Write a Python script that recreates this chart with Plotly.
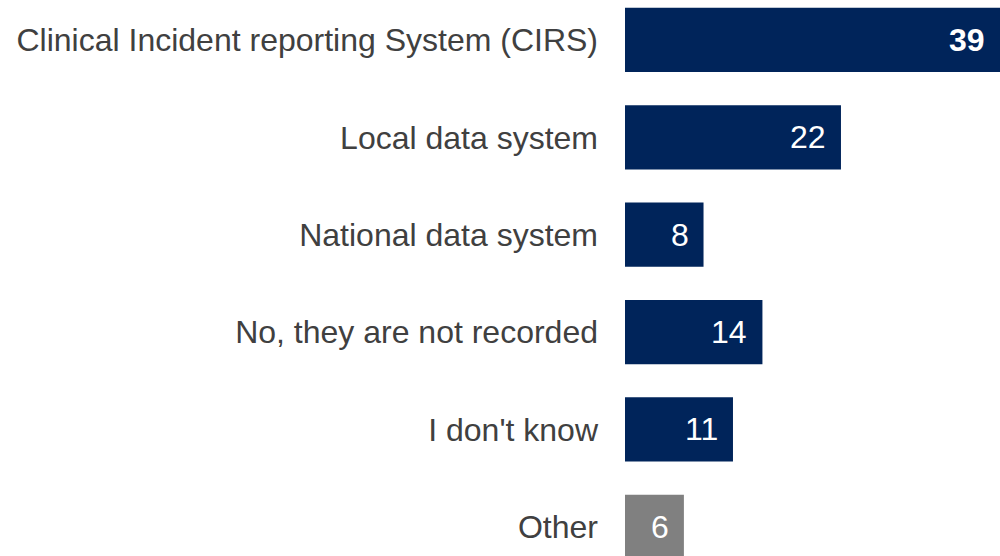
import plotly.graph_objects as go

# Survey responses: how incidents are recorded
categories = [
    "Clinical Incident reporting System (CIRS)",
    "Local data system",
    "National data system",
    "No, they are not recorded",
    "I don't know",
    "Other",
]
counts = [39, 22, 8, 14, 11, 6]

NAVY = "#00245A"
GREY = "#808080"
bar_colors = [GREY if c == "Other" else NAVY for c in categories]

X_MAX = 38.2  # longest bar runs off the right edge

fig = go.Figure(
    go.Bar(
        x=counts,
        y=categories,
        orientation="h",
        marker=dict(color=bar_colors, line=dict(width=0)),
        width=0.66,
        hoverinfo="skip",
    )
)

# Value labels at the inner (visible) end of each bar
for cat, val in zip(categories, counts):
    label = f"<b>{val}</b>" if val == max(counts) else str(val)
    fig.add_annotation(
        x=min(val, X_MAX), y=cat, xref="x", yref="y",
        text=label, showarrow=False,
        xanchor="right", yanchor="middle", xshift=-13,
        font=dict(family="Liberation Sans, Arial, sans-serif", size=32, color="white"),
    )

fig.update_layout(
    width=1000,
    height=556,
    margin=dict(l=625, r=0, t=0, b=0),
    paper_bgcolor="white",
    plot_bgcolor="white",
    showlegend=False,
    font=dict(family="Liberation Sans, Arial, sans-serif", size=32, color="#404040"),
    xaxis=dict(
        range=[0, X_MAX],
        visible=False,
        showgrid=False,
        zeroline=False,
        fixedrange=True,
    ),
    yaxis=dict(
        type="category",
        range=[5.30, -0.41],
        showgrid=False,
        zeroline=False,
        showline=False,
        ticks="",
        ticklabelstandoff=26,
        tickfont=dict(size=32, color="#404040"),
        fixedrange=True,
    ),
)

fig.write_html("out.html", config={"displayModeBar": False})
